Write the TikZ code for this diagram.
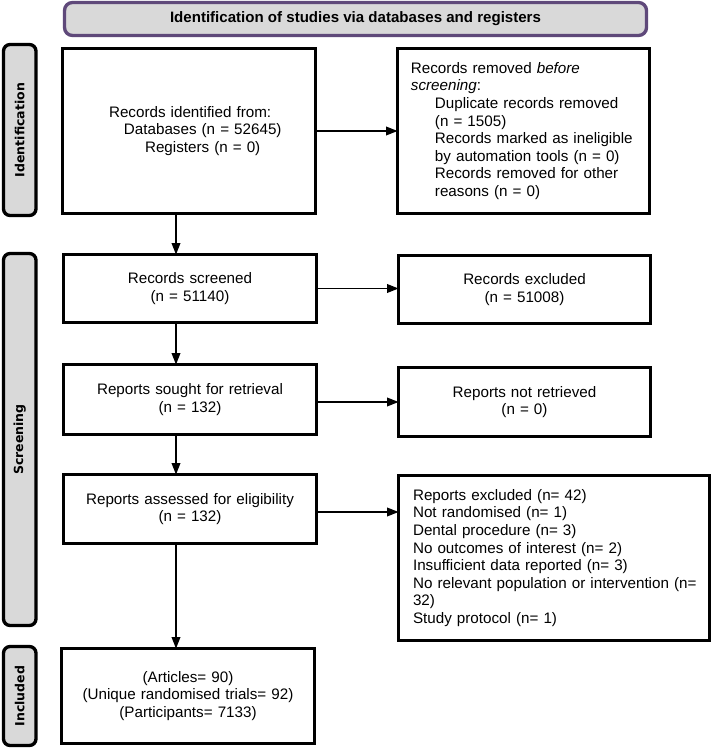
\documentclass[tikz,border=0pt]{standalone}
\usepackage{fontspec}
\setmainfont{Liberation Sans}
\newfontfamily\sidefont{DejaVu Sans}
\usetikzlibrary{arrows.meta}
\definecolor{labgray}{HTML}{D9D9D9}
\definecolor{bannerpurple}{HTML}{5F497A}
\newcommand\txtsize{\fontsize{11.4}{13.2}\selectfont}
\begin{document}
\begin{tikzpicture}[x=0.75pt,y=-0.75pt,
  box/.style={draw=black, line width=2.5pt, fill=white, inner xsep=0pt, inner ysep=0pt, outer sep=0pt, font=\txtsize},
  wide/.style={minimum width=189.75pt, text width=189.75pt},
  sidelab/.style={draw=black, line width=2.5pt, fill=labgray, rounded corners=5pt, inner sep=0pt, outer sep=0pt, rotate=90, minimum height=24.4pt, font=\sidefont\bfseries\fontsize{9.4}{11}\selectfont},
  banner/.style={draw=bannerpurple, line width=2.5pt, fill=labgray, rounded corners=6pt, inner sep=0pt, outer sep=0pt, font=\bfseries\fontsize{11.3}{13}\selectfont},
  arr/.style={-{Triangle[length=8.5pt,width=6.5pt]}, line width=1pt}
]
\fill[white] (0,0) rectangle (712,749);
\useasboundingbox (0,0) rectangle (712,749);

% banner
\node[banner, minimum width=436.5pt, minimum height=24.75pt] (title) at (355.5,19) {Identification of studies via databases and registers};

% side labels
\node[sidelab, minimum width=128.25pt] (labident) at (19.75,130) {Identification};
\node[sidelab, minimum width=279pt] (labscreen) at (19.75,439.5) {Screening};
\node[sidelab, minimum width=74.25pt] (labincl) at (19.75,696) {Included};

% left column
\node[box, wide, minimum height=123.75pt, align=left] (ident) at (189,131)
  {\hspace*{34.9pt}Records identified from:\\\hspace*{46.1pt}Databases (n = 52645)\\\hspace*{61.9pt}Registers (n = 0)};
\node[box, wide, minimum height=51pt, align=center] (screened) at (190,288.5)
  {Records screened\\(n = 51140)};
\node[box, wide, minimum height=52.5pt, align=center] (sought) at (190,399.5)
  {Reports sought for retrieval\\(n = 132)};
\node[box, wide, minimum height=51.75pt, align=center] (assessed) at (190,509)
  {Reports assessed for eligibility\\(n = 132)};
\node[box, wide, minimum height=71.25pt, align=center] (included) at (188,696)
  {(Articles= 90)\\(Unique randomised trials= 92)\\(Participants= 7133)\\[4pt]};

% right column
\node[box, minimum width=189pt, text width=189pt, minimum height=123.75pt, align=left] (removed) at (523.5,131)
  {\hspace*{10.1pt}Records removed \textit{before}\\
   \hspace*{10.1pt}\textit{screening}:\\
   \hspace*{28.1pt}Duplicate records removed\\
   \hspace*{28.1pt}(n = 1505)\\
   \hspace*{28.1pt}Records marked as ineligible\\
   \hspace*{28.1pt}by automation tools (n = 0)\\
   \hspace*{28.1pt}Records removed for other\\
   \hspace*{28.1pt}reasons (n = 0)};
\node[box, minimum width=189pt, text width=189pt, minimum height=51pt, align=center] (excluded) at (524.5,289.5)
  {Records excluded\\(n = 51008)};
\node[box, minimum width=189pt, text width=189pt, minimum height=51.75pt, align=center] (notret) at (524.5,402)
  {Reports not retrieved\\(n = 0)};
\node[box, minimum width=233.25pt, text width=233.25pt, minimum height=123.75pt, align=left] (repexcl) at (554,558)
  {\hspace*{10.9pt}Reports excluded (n= 42)\\
   \hspace*{10.9pt}Not randomised (n= 1)\\
   \hspace*{10.9pt}Dental procedure (n= 3)\\
   \hspace*{10.9pt}No outcomes of interest (n= 2)\\
   \hspace*{10.9pt}Insufficient data reported (n= 3)\\
   \hspace*{10.9pt}No relevant population or intervention (n=\\
   \hspace*{10.9pt}32)\\
   \hspace*{10.9pt}Study protocol (n= 1)\\[6pt]};

% connectors
\coordinate (dn) at (176,0);
\draw[arr] (ident.south -| dn) -- (screened.north -| dn);
\draw[arr] (screened.south -| dn) -- (sought.north -| dn);
\draw[arr] (sought.south -| dn) -- (assessed.north -| dn);
\draw[arr] (assessed.south -| dn) -- (included.north -| dn);

\draw[arr] (ident.east) -- (ident.east -| removed.west);
\draw[arr] (screened.east) -- (screened.east -| excluded.west);
\draw[arr] (notret.west -| sought.east) -- (notret.west);
\coordinate (a1) at ([yshift=-2.25pt]assessed.east);
\draw[arr] (a1) -- (a1 -| repexcl.west);
\end{tikzpicture}
\end{document}
